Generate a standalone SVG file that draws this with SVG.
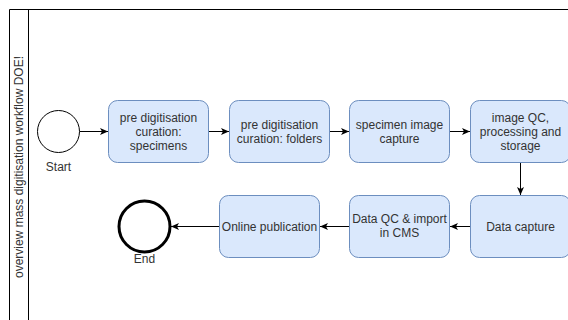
<svg xmlns="http://www.w3.org/2000/svg" width="568" height="320" viewBox="0 0 568 320">
  <style>
    .pool { fill: none; stroke: #000; stroke-width: 1; }
    .task { fill: #dae8fc; stroke: #6c8ebf; stroke-width: 1; }
    .lbl { font-family: "Liberation Sans", Arial, sans-serif; font-size: 12px; fill: #333; text-anchor: middle; }
    .edge { fill: none; stroke: #000; stroke-width: 1; marker-end: url(#arrow); }
  </style>
  <defs>
    <marker id="arrow" markerUnits="userSpaceOnUse" markerWidth="10" markerHeight="10" refX="8" refY="4" orient="auto">
      <path d="M0,0.5 L8,4 L0,7.5 L2,4 Z" fill="#000"/>
    </marker>
  </defs>
  <rect width="568" height="320" fill="#fff"/>

  <!-- Pool with vertical header -->
  <g id="pool">
    <path class="pool" d="M9.5,330 V9.5 H580 M28.5,9.5 V330"/>
    <text class="lbl" transform="translate(23,167) rotate(-90)">overview mass digitisation workflow DOE!</text>
  </g>

  <!-- Connectors -->
  <g id="connectors">
    <path class="edge" d="M79.5,131.5 H108"/>
    <path class="edge" d="M208.5,131.5 H229"/>
    <path class="edge" d="M329.5,131.5 H349"/>
    <path class="edge" d="M450,131.5 H470"/>
    <path class="edge" d="M520.5,163 V195"/>
    <path class="edge" d="M470.5,226.5 H450"/>
    <path class="edge" d="M349.5,226.5 H320"/>
    <path class="edge" d="M219.5,226.5 H171"/>
  </g>

  <g id="start">
    <circle cx="58.5" cy="131.5" r="21" fill="#fff" stroke="#000" stroke-width="1"/>
    <text class="lbl" x="58.5" y="171">Start</text>
  </g>

  <g id="task-specimens">
    <rect class="task" x="108.5" y="100.5" width="100" height="62" rx="9"/>
    <text class="lbl" x="158.5" y="121.5">pre digitisation</text>
    <text class="lbl" x="158.5" y="135.5">curation:</text>
    <text class="lbl" x="158.5" y="149.5">specimens</text>
  </g>

  <g id="task-folders">
    <rect class="task" x="229.5" y="100.5" width="100" height="62" rx="9"/>
    <text class="lbl" x="279.5" y="128.5">pre digitisation</text>
    <text class="lbl" x="279.5" y="142.5">curation: folders</text>
  </g>

  <g id="task-capture">
    <rect class="task" x="349.5" y="100.5" width="100" height="62" rx="9"/>
    <text class="lbl" x="399.5" y="128.5">specimen image</text>
    <text class="lbl" x="399.5" y="142.5">capture</text>
  </g>

  <g id="task-imageqc">
    <rect class="task" x="470.5" y="100.5" width="100" height="62" rx="9"/>
    <text class="lbl" x="520.5" y="121.5">image QC,</text>
    <text class="lbl" x="520.5" y="135.5">processing and</text>
    <text class="lbl" x="520.5" y="149.5">storage</text>
  </g>

  <g id="task-datacapture">
    <rect class="task" x="470.5" y="195.5" width="100" height="62" rx="9"/>
    <text class="lbl" x="520.5" y="230.5">Data capture</text>
  </g>

  <g id="task-dataqc">
    <rect class="task" x="349.5" y="195.5" width="100" height="62" rx="9"/>
    <text class="lbl" x="399.5" y="222.5">Data QC &amp; import</text>
    <text class="lbl" x="399.5" y="236.5">in CMS</text>
  </g>

  <g id="task-publication">
    <rect class="task" x="219.5" y="195.5" width="100" height="62" rx="9"/>
    <text class="lbl" x="269.5" y="230.5">Online publication</text>
  </g>

  <g id="end">
    <circle cx="144.5" cy="226.5" r="25.5" fill="#fff" stroke="#000" stroke-width="3"/>
    <text class="lbl" x="144.5" y="263">End</text>
  </g>
</svg>
